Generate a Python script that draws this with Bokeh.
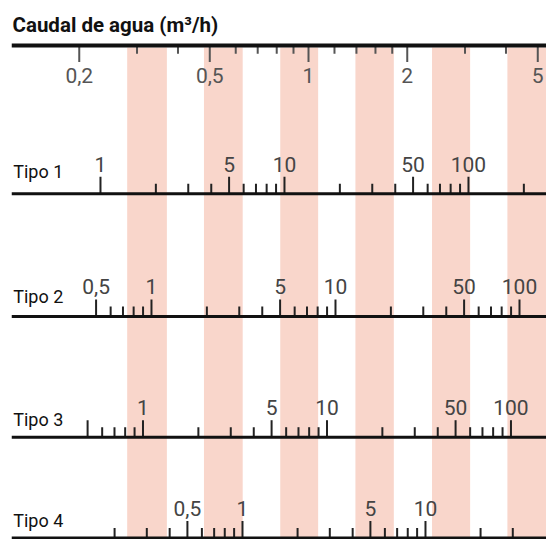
from bokeh.plotting import figure
from bokeh.models import Range1d, LogScale, Span, Label
from bokeh.core.properties import value
from bokeh.embed import file_html
from bokeh.resources import INLINE

# ---------------- data ----------------
title_text = "Caudal de agua (m³/h)"

# top scale: water flow (m3/h)
flow_major = [0.2, 0.5, 1, 2, 5]
flow_major_labels = ["0,2", "0,5", "1", "2", "5"]
flow_minor = [0.3, 0.4, 0.6, 0.7, 0.8, 0.9, 1.2, 1.4, 1.6, 1.8, 3, 4]

# shaded bands (in flow units)
band_start = [0.28, 0.48, 0.82, 1.39, 2.38, 4.04]
band_end = [0.37, 0.63, 1.07, 1.82, 3.11, 5.6]

type_names = ["Tipo 1", "Tipo 2", "Tipo 3", "Tipo 4"]

t1_major = [1, 5, 10, 50, 100]
t1_labels = ["1", "5", "10", "50", "100"]
t1_minor = [2, 3, 4, 6, 7, 8, 9, 20, 30, 40, 60, 70, 80, 90, 200]

t2_major = [0.5, 1, 5, 10, 50, 100]
t2_labels = ["0,5", "1", "5", "10", "50", "100"]
t2_minor = [0.6, 0.7, 0.8, 0.9, 2, 3, 4, 6, 7, 8, 9, 20, 30, 40, 60, 70, 80, 90]

t3_major = [0.5, 1, 5, 10, 50, 100]
t3_labels = ["", "1", "5", "10", "50", "100"]
t3_minor = [0.6, 0.7, 0.8, 0.9, 2, 3, 4, 6, 7, 8, 9, 20, 30, 40, 60, 70, 80, 90]

t4_major = [0.5, 1, 5, 10]
t4_labels = ["0,5", "1", "5", "10"]
t4_minor = [0.2, 0.3, 0.4, 0.6, 0.7, 0.8, 0.9, 2, 3, 4, 6, 7, 8, 9, 20, 30]

# visible range of each logarithmic scale
flow_range = (0.1243, 5.316)
type_ranges = [(0.3284, 265.5), (0.1735, 140.2), (0.1929, 156.0), (0.05466, 45.85)]

# ---------------- layout ----------------
W, H = 546, 539
FONT = "Roboto"
TOP_LINE = 45
ROW_LINE = [193.3, 316.0, 436.7, 537.5]
ROW_NAME = [170.8, 295.5, 419.2, 519.5]   # vertical centre of the row names
MAJ, MIN = 17, 10

p = figure(width=W, height=H, x_axis_type="log",
           x_range=Range1d(*flow_range), y_range=Range1d(H, 0),
           output_backend="svg", toolbar_location=None,
           x_axis_location=None, y_axis_location=None,
           min_border=0, min_border_left=11, min_border_right=0,
           min_border_top=0, min_border_bottom=0)
p.grid.visible = False
p.outline_line_color = None
p.background_fill_color = "white"
p.border_fill_color = "white"

# bands
p.quad(left=band_start, right=band_end, top=47, bottom=H,
       fill_color="#f9d6cb", line_color=None)

# top axis
p.add_layout(Span(location=TOP_LINE, dimension="width", line_color="#111111", line_width=4))
p.segment(x0=flow_major, x1=flow_major, y0=TOP_LINE, y1=TOP_LINE + 16.5,
          line_color="#555555", line_width=2)
p.segment(x0=flow_minor, x1=flow_minor, y0=TOP_LINE, y1=TOP_LINE + 8.3,
          line_color="#555555", line_width=2)
p.text(x=flow_major, y=74.5, text=flow_major_labels, text_align="center",
       text_baseline="middle", text_font=value(FONT), text_font_size="21px",
       text_color="#555555")

# title
p.add_layout(Label(x=1, y=24, x_units="screen", y_units="data", text=title_text,
                   text_font=FONT, text_font_size="20.5px", text_font_style="bold",
                   text_color="#111111", text_baseline="middle"))

rows = [(t1_major, t1_labels, t1_minor), (t2_major, t2_labels, t2_minor),
        (t3_major, t3_labels, t3_minor), (t4_major, t4_labels, t4_minor)]

p.extra_x_ranges = {f"t{i}": Range1d(*r) for i, r in enumerate(type_ranges)}
p.extra_x_scales = {f"t{i}": LogScale() for i in range(len(type_ranges))}

for i, (maj, labs, mnr) in enumerate(rows):
    rn = f"t{i}"
    ly = ROW_LINE[i]
    p.add_layout(Span(location=ly, dimension="width", line_color="#111111", line_width=3))
    p.segment(x0=maj, x1=maj, y0=ly, y1=ly - MAJ, line_color="#222222",
              line_width=2, x_range_name=rn)
    p.segment(x0=mnr, x1=mnr, y0=ly, y1=ly - MIN, line_color="#222222",
              line_width=2, x_range_name=rn)
    p.text(x=maj, y=ly - 29.7, text=labs, text_align="center",
           text_baseline="middle", text_font=value(FONT), text_font_size="21px",
           text_color="#444444", x_range_name=rn)
    p.add_layout(Label(x=1.7, y=ROW_NAME[i], x_units="screen", y_units="data",
                       text=type_names[i], text_font=FONT, text_font_size="18px",
                       text_color="#111111", text_baseline="middle"))

open("out.html", "w").write(file_html(p, INLINE))
